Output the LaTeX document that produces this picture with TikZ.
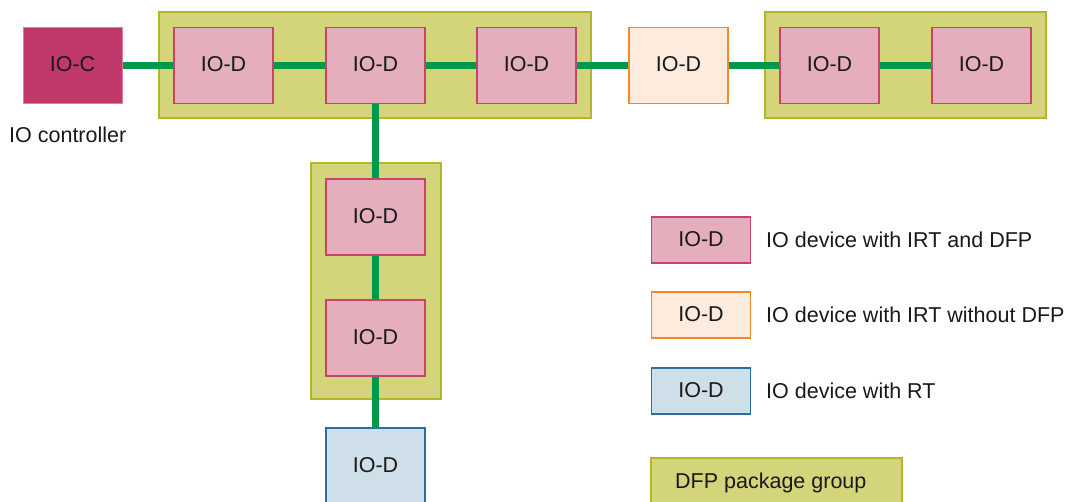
\documentclass[tikz,border=0pt]{standalone}
\usepackage{fontspec}
\setmainfont{Liberation Sans}
\begin{document}
\begin{tikzpicture}[x=1pt,y=-1pt,
  every node/.style={font=\fontsize{21.5}{26}\selectfont, text=black!90},
  dev/.style={draw, line width=1.6pt, minimum width=99pt, minimum height=76pt, inner sep=0pt, text depth=0.3em},
  dfp/.style={dev, fill=pinkfill, draw=pinkline},
  irt/.style={dev, fill=orangefill, draw=orangeline},
  rt/.style={dev, fill=bluefill, draw=blueline},
  grp/.style={draw=grpline, fill=grpfill, line width=1.6pt, inner sep=0pt},
  link/.style={draw=netgreen, line width=7pt},
  lbl/.style={anchor=west, inner sep=0pt}]
\definecolor{pinkfill}{HTML}{E4AEBD}
\definecolor{pinkline}{HTML}{C8436E}
\definecolor{orangefill}{HTML}{FDECDD}
\definecolor{orangeline}{HTML}{F08A2C}
\definecolor{bluefill}{HTML}{CFDFE9}
\definecolor{blueline}{HTML}{2A7099}
\definecolor{grpfill}{HTML}{D4D47B}
\definecolor{grpline}{HTML}{B0B82A}
\definecolor{netgreen}{HTML}{00994A}
\definecolor{ctrlfill}{HTML}{C0386A}
\definecolor{ctrlline}{HTML}{E07C9C}
\useasboundingbox (0,0) rectangle (1076,502);
\clip (0,0) rectangle (1076,502);
% groups
\node[grp, minimum width=432pt, minimum height=106pt] (g1) at (375,65) {};
\node[grp, minimum width=281pt, minimum height=106pt] (g2) at (905.5,65) {};
\node[grp, minimum width=130pt, minimum height=236pt] (g3) at (376,281) {};
% devices
\node[dev, fill=ctrlfill, draw=ctrlline, line width=1pt] (c) at (72.5,65.5) {IO-C};
\node[dfp] (d1) at (223.5,65.5) {IO-D};
\node[dfp] (d2) at (375.5,65.5) {IO-D};
\node[dfp] (d3) at (526.5,65.5) {IO-D};
\node[irt] (d4) at (678.5,65.5) {IO-D};
\node[dfp] (d5) at (829.5,65.5) {IO-D};
\node[dfp] (d6) at (981.5,65.5) {IO-D};
\node[dfp] (v1) at (375.5,217) {IO-D};
\node[dfp] (v2) at (375.5,338) {IO-D};
\node[rt] (v3) at (375.5,466) {IO-D};
\node[lbl] (ctl) at (9,135) {IO controller};
% links
\draw[link] (c.east) -- (d1.west);
\draw[link] (d1.east) -- (d2.west);
\draw[link] (d2.east) -- (d3.west);
\draw[link] (d3.east) -- (d4.west);
\draw[link] (d4.east) -- (d5.west);
\draw[link] (d5.east) -- (d6.west);
\draw[link] (d2.south) -- (v1.north);
\draw[link] (v1.south) -- (v2.north);
\draw[link] (v2.south) -- (v3.north);
% legend
\node[dfp, minimum height=46pt, text depth=0.15em] (l1) at (701,240) {IO-D};
\node[irt, minimum height=46pt, text depth=0.15em] (l2) at (701,315) {IO-D};
\node[rt, minimum height=46pt, text depth=0.15em] (l3) at (701,391) {IO-D};
\node[grp, minimum width=251pt, minimum height=50pt] (l4) at (776.5,483) {};
\node[lbl] (t1) at (766,240) {IO device with IRT and DFP};
\node[lbl] (t2) at (766,315) {IO device with IRT without DFP};
\node[lbl] (t3) at (766,391) {IO device with RT};
\node[lbl] (t4) at (675,483) {DFP package group};
\end{tikzpicture}
\end{document}
